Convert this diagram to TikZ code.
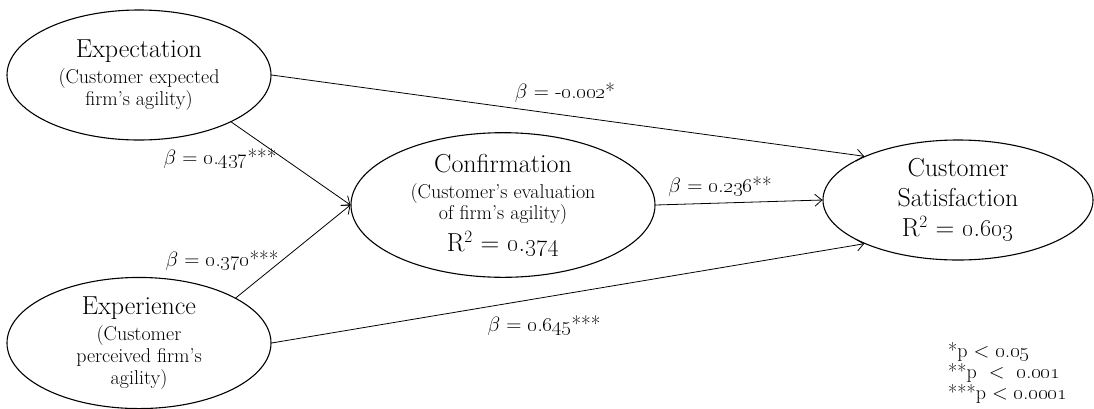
\documentclass[tikz,border=0pt]{standalone}
\usetikzlibrary{arrows.meta,shapes.geometric}
\newcommand{\osn}[1]{\oldstylenums{#1}}
\newcommand{\bigtxt}{\fontsize{26}{30}\selectfont}
\newcommand{\subtxt}{\fontsize{20}{22}\selectfont}
\newcommand{\labtxt}{\fontsize{21}{24}\selectfont}
\begin{document}
\begin{tikzpicture}[x=1pt,y=-1pt,
  latent/.style={draw, line width=1.1pt, ellipse, inner sep=0pt, align=center},
  path/.style={draw, line width=0.8pt, -{Straight Barb[length=7pt,width=12pt,line width=0.8pt]}},
  coef/.style={inner sep=0pt, font=\labtxt},
  legend/.style={inner sep=0pt, anchor=west, font=\fontsize{20}{22}\selectfont}
]
\useasboundingbox (0,0) rectangle (1094,408);
\fill[white] (0,0) rectangle (1094,408);

\node[latent, font=\subtxt, minimum width=264pt, minimum height=130pt] (expc) at (139,75)
  {{\bigtxt Expectation}\\[4pt](Customer expected\\firm's agility)};
\node[latent, font=\subtxt, minimum width=264pt, minimum height=127pt] (expr) at (139,343)
  {{\bigtxt Experience}\\[4pt](Customer\\perceived firm's\\agility)};
\node[latent, font=\fontsize{20}{21}\selectfont, minimum width=304pt, minimum height=129pt] (conf) at (503,205)
  {{\bigtxt Confirmation}\\[5pt](Customer's evaluation\\of firm's agility)\\[6pt]{\bigtxt R$^2$ = \osn{0}.\osn{374}}};
\node[latent, font=\bigtxt, minimum width=270pt, minimum height=120pt] (cs) at (958,200)
  {Customer\\Satisfaction\\R$^2$ = \osn{0}.\osn{603}};

\draw[path] (expc.east) -- (cs.155);
\draw[path] (expc.-27) -- (conf.west);
\draw[path] (expr.25) -- (conf.west);
\draw[path] (conf.east) -- (cs.west);
\draw[path] (expr.east) -- (cs.205);

\node[coef] (b1) at (565,93) {$\beta$ = -\osn{0}.\osn{002}*};
\node[coef] (b2) at (220,159) {$\beta$ = \osn{0}.\osn{437}***};
\node[coef] (b3) at (222,261) {$\beta$ = \osn{0}.\osn{370}***};
\node[coef] (b4) at (720,187) {$\beta$ = \osn{0}.\osn{236}**};
\node[coef] (b5) at (544,326) {$\beta$ = \osn{0}.\osn{645}***};

\node[legend] (l1) at (948,352) {*p $<$ \osn{0}.\osn{05}};
\node[legend] (l2) at (948,373) {**p \ $<$ \ \osn{0}.\osn{001}};
\node[legend] (l3) at (948,394) {***p $<$ \osn{0}.\osn{0001}};
\end{tikzpicture}
\end{document}
